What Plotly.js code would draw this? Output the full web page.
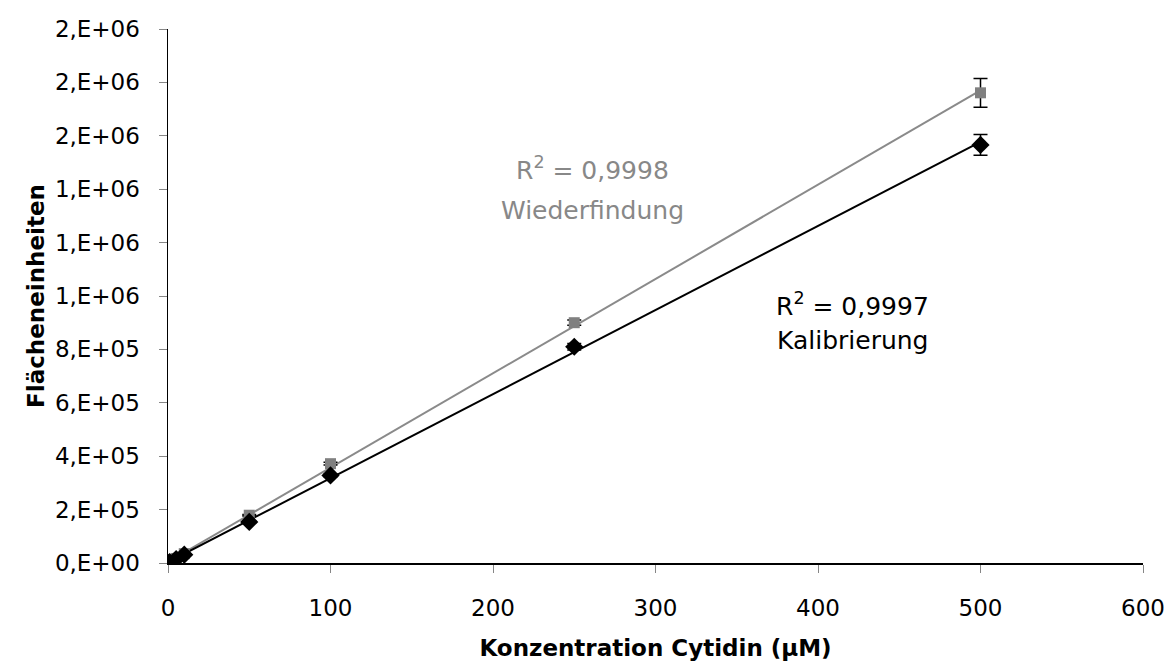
<!DOCTYPE html>
<html>
<head>
<meta charset="utf-8">
<script src="https://cdn.plot.ly/plotly-3.0.1.min.js"></script>
<style>html,body{margin:0;padding:0;background:#fff;}#chart{width:1172px;height:663px;}</style>
</head>
<body>
<div id="chart"></div>
<script>
// Data
const concentration = [0, 1, 5, 10, 50, 100, 250, 500];
const kalibrierung = [0, 3500, 15000, 31000, 154000, 328000, 810000, 1566000];
const kalibrierungErr = [0, 0, 0, 0, 3000, 5000, 12000, 39000];
const wiederfindung = [0, 3800, 17000, 35000, 179000, 372000, 900000, 1761000];
const wiederfindungErr = [0, 0, 0, 0, 3000, 5000, 10000, 54000];
const yTickVals = [0, 200000, 400000, 600000, 800000, 1000000, 1200000, 1400000, 1600000, 1800000, 2000000];
const yTickText = ["0,E+00", "2,E+05", "4,E+05", "6,E+05", "8,E+05", "1,E+06", "1,E+06", "1,E+06", "2,E+06", "2,E+06", "2,E+06"];
const xTickVals = [0, 100, 200, 300, 400, 500, 600];

function linfit(x, y) {
  const n = x.length;
  let sx = 0, sy = 0, sxx = 0, sxy = 0;
  for (let i = 0; i < n; i++) { sx += x[i]; sy += y[i]; sxx += x[i]*x[i]; sxy += x[i]*y[i]; }
  const m = (n*sxy - sx*sy) / (n*sxx - sx*sx);
  const b = (sy - m*sx) / n;
  return {m, b};
}
const xmin = Math.min(...concentration), xmax = Math.max(...concentration);
const fk = linfit(concentration, kalibrierung);
const fw = linfit(concentration, wiederfindung);

const FONT = "DejaVu Sans, sans-serif";
const traces = [
  {x: [xmin, xmax], y: [fw.m*xmin + fw.b, fw.m*xmax + fw.b], mode: "lines",
   line: {color: "#8a8a8a", width: 2}, hoverinfo: "skip", showlegend: false},
  {x: [xmin, xmax], y: [fk.m*xmin + fk.b, fk.m*xmax + fk.b], mode: "lines",
   line: {color: "#000000", width: 2}, hoverinfo: "skip", showlegend: false},
  {x: concentration, y: wiederfindung, mode: "markers", name: "Wiederfindung",
   marker: {symbol: "square", size: 11, color: "#808080"},
   error_y: {type: "data", array: wiederfindungErr, visible: true, color: "#000", thickness: 1.5, width: 7},
   showlegend: false},
  {x: concentration, y: kalibrierung, mode: "markers", name: "Kalibrierung",
   marker: {symbol: "diamond", size: 14, color: "#000000"},
   error_y: {type: "data", array: kalibrierungErr, visible: true, color: "#000", thickness: 1.5, width: 7},
   showlegend: false}
];

const GRAY_TXT = "#888888";
const layout = {
  width: 1172, height: 663,
  margin: {l: 168, r: 29, t: 29, b: 100},
  paper_bgcolor: "#fff", plot_bgcolor: "#fff",
  font: {family: FONT, size: 22, color: "#000"},
  showlegend: false,
  xaxis: {
    range: [0, 600], tickvals: xTickVals, ticktext: xTickVals.map(String),
    showgrid: false, zeroline: false, showline: true, linecolor: "#000", linewidth: 1.5,
    ticks: "outside", ticklen: 8, tickcolor: "#868686", tickwidth: 1,
    ticklabelstandoff: 16,
    tickfont: {family: FONT, size: 23},
    title: {text: "<b>Konzentration Cytidin (µM)</b>", font: {family: FONT, size: 23}, standoff: 20}
  },
  yaxis: {
    range: [0, 2000000], tickvals: yTickVals, ticktext: yTickText,
    showgrid: false, zeroline: false, showline: true, linecolor: "#000", linewidth: 1.5,
    ticks: "outside", ticklen: 8, tickcolor: "#868686", tickwidth: 1,
    ticklabelstandoff: 14,
    tickfont: {family: FONT, size: 23},
    title: {text: "<b>Flächeneinheiten</b>", font: {family: FONT, size: 23}, standoff: 4}
  },
  annotations: [
    {x: 261, y: 1476000, xref: "x", yref: "y", showarrow: false,
     text: "R<sup>2</sup> = 0,9998", font: {family: FONT, size: 25, color: GRAY_TXT}},
    {x: 261, y: 1322000, xref: "x", yref: "y", showarrow: false,
     text: "Wiederfindung", font: {family: FONT, size: 25, color: GRAY_TXT}},
    {x: 421, y: 970000, xref: "x", yref: "y", showarrow: false,
     text: "R<sup>2</sup> = 0,9997", font: {family: FONT, size: 25, color: "#000"}},
    {x: 421, y: 832000, xref: "x", yref: "y", showarrow: false,
     text: "Kalibrierung", font: {family: FONT, size: 25, color: "#000"}}
  ]
};
Plotly.newPlot("chart", traces, layout, {displayModeBar: false, staticPlot: true});
</script>
</body>
</html>
